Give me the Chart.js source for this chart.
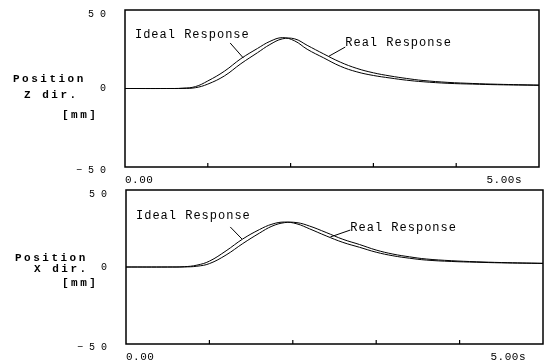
<!DOCTYPE html>
<html>
<head>
<meta charset="utf-8">
<script src="https://cdn.jsdelivr.net/npm/chart.js@4.4.1/dist/chart.umd.min.js"></script>
<style>
body { margin: 0; background: #fff; }
canvas { display: block; position: absolute; left: 0; }
#chart-z-dir { top: 0; }
#chart-x-dir { top: 182px; }
</style>
</head>
<body>
<canvas id="chart-z-dir" width="551" height="190"></canvas>
<canvas id="chart-x-dir" width="551" height="182"></canvas>
<script>
// time in seconds, position in mm
const timeSec = [0, 0.5, 0.7, 0.85, 1.0, 1.2, 1.4, 1.6, 1.75, 1.9, 2.05, 2.2, 2.4, 2.6, 2.8, 3.0, 3.2, 3.4, 3.6, 3.9, 4.2, 4.5, 5.0];
const zIdeal = [0, 0, 0.2, 1.2, 4.8, 11, 19, 25.5, 30, 32.4, 30.3, 25, 19.5, 14.2, 10.6, 8.3, 6.7, 5.3, 4.3, 3.3, 2.8, 2.4, 2.0];
const zReal  = [0, 0, 0.05, 0.5, 2.8, 8.0, 15.8, 22.8, 28.0, 31.6, 31.6, 27.5, 22.0, 16.8, 12.8, 10.0, 8.0, 6.4, 5.1, 3.9, 3.2, 2.7, 2.2];
const xIdeal = [0, 0, 0.2, 1.2, 3.8, 10.5, 18.2, 24.3, 27.8, 29.2, 28.0, 24.8, 20.2, 16.0, 12.8, 9.6, 7.3, 5.7, 4.5, 3.6, 3.1, 2.7, 2.3];
const xReal  = [0, 0, 0.05, 0.5, 2.2, 7.8, 15.2, 22.0, 26.5, 28.8, 28.8, 26.6, 22.4, 18.0, 14.6, 11.0, 8.4, 6.6, 5.2, 4.1, 3.4, 2.9, 2.4];

const yTickValues = [50, 0, -50];
const yTickLabels = ['5 0', '0', '\u2212 5 0'];
const xTickValues = [1, 2, 3, 4];
const xStartLabel = '0.00';
const xEndLabel = '5.00s';

function toPoints(values) {
    return timeSec.map((t, i) => ({ x: t, y: values[i] }));
}

const framePlugin = {
    id: 'frame',
    afterDraw(chart, args, opts) {
        const ctx = chart.ctx;
        const a = chart.chartArea;
        const xs = chart.scales.x;
        const ys = chart.scales.y;
        ctx.save();
        ctx.strokeStyle = '#000';
        ctx.fillStyle = '#000';
        ctx.lineWidth = 1.5;
        ctx.strokeRect(a.left, a.top, a.right - a.left, a.bottom - a.top);

        // small tick marks pointing up from the bottom edge
        ctx.lineWidth = 1.2;
        xTickValues.forEach(v => {
            const px = xs.getPixelForValue(v);
            ctx.beginPath();
            ctx.moveTo(px, a.bottom);
            ctx.lineTo(px, a.bottom - 4);
            ctx.stroke();
        });

        // y tick labels
        ctx.font = '10px "Liberation Mono"';
        ctx.textAlign = 'right';
        ctx.textBaseline = 'middle';
        yTickValues.forEach((v, i) => {
            const off = v === 50 ? 4 : (v === -50 ? 3 : 0);
            ctx.fillText(yTickLabels[i], a.left - 19, ys.getPixelForValue(v) + off);
        });

        // x end labels
        ctx.font = '11px "Liberation Mono"';
        ctx.letterSpacing = '0.5px';
        ctx.textAlign = 'left';
        ctx.fillText(xStartLabel, a.left, a.bottom + 13);
        ctx.textAlign = 'right';
        ctx.fillText(xEndLabel, a.right - 17, a.bottom + 13);

        // axis title
        ctx.font = 'bold 11px "Liberation Mono"';
        ctx.letterSpacing = '2.5px';
        ctx.textAlign = 'left';
        opts.title.forEach(line => ctx.fillText(line.text, line.x, line.y));

        // curve labels with leader lines
        ctx.font = '12px "Liberation Mono"';
        ctx.letterSpacing = '1px';
        ctx.lineWidth = 1;
        opts.notes.forEach(n => {
            ctx.fillText(n.text, xs.getPixelForValue(n.at[0]), ys.getPixelForValue(n.at[1]));
            ctx.beginPath();
            ctx.moveTo(xs.getPixelForValue(n.from[0]), ys.getPixelForValue(n.from[1]));
            ctx.lineTo(xs.getPixelForValue(n.to[0]), ys.getPixelForValue(n.to[1]));
            ctx.stroke();
        });
        ctx.restore();
    }
};

function loadResponseChart(id, ideal, real, padding, title, notes) {
    const ctx = document.getElementById(id).getContext('2d');
    return new Chart(ctx, {
        type: 'line',
        data: {
            datasets: [{
                label: 'Ideal Response',
                data: toPoints(ideal),
                borderColor: '#000',
                borderWidth: 1,
                pointRadius: 0,
                tension: 0.4
            }, {
                label: 'Real Response',
                data: toPoints(real),
                borderColor: '#000',
                borderWidth: 1,
                pointRadius: 0,
                tension: 0.4
            }]
        },
        options: {
            responsive: false,
            animation: false,
            layout: { padding: padding },
            plugins: {
                legend: { display: false },
                tooltip: { enabled: false },
                frame: { title: title, notes: notes }
            },
            scales: {
                x: { type: 'linear', min: 0, max: 5, display: false },
                y: { min: -50, max: 50, display: false }
            }
        },
        plugins: [framePlugin]
    });
}

loadResponseChart('chart-z-dir', zIdeal, zReal,
    { left: 125, top: 10, right: 12, bottom: 23 },
    [{ text: 'Position', x: 13, y: 79 }, { text: 'Z dir.', x: 24, y: 95 }, { text: '[mm]', x: 62, y: 115 }],
    [
        { text: 'Ideal Response', at: [0.12, 34], from: [1.27, 29], to: [1.43, 19.4] },
        { text: 'Real Response', at: [2.66, 29], from: [2.66, 26.4], to: [2.46, 20.5] }
    ]);

loadResponseChart('chart-x-dir', xIdeal, xReal,
    { left: 126, top: 8, right: 8, bottom: 20 },
    [{ text: 'Position', x: 15, y: 76 }, { text: 'X dir.', x: 34, y: 87 }, { text: '[mm]', x: 62, y: 101 }],
    [
        { text: 'Ideal Response', at: [0.12, 33], from: [1.25, 26], to: [1.39, 18.2] },
        { text: 'Real Response', at: [2.69, 25.3], from: [2.69, 24], to: [2.45, 19.5] }
    ]);
</script>
</body>
</html>
